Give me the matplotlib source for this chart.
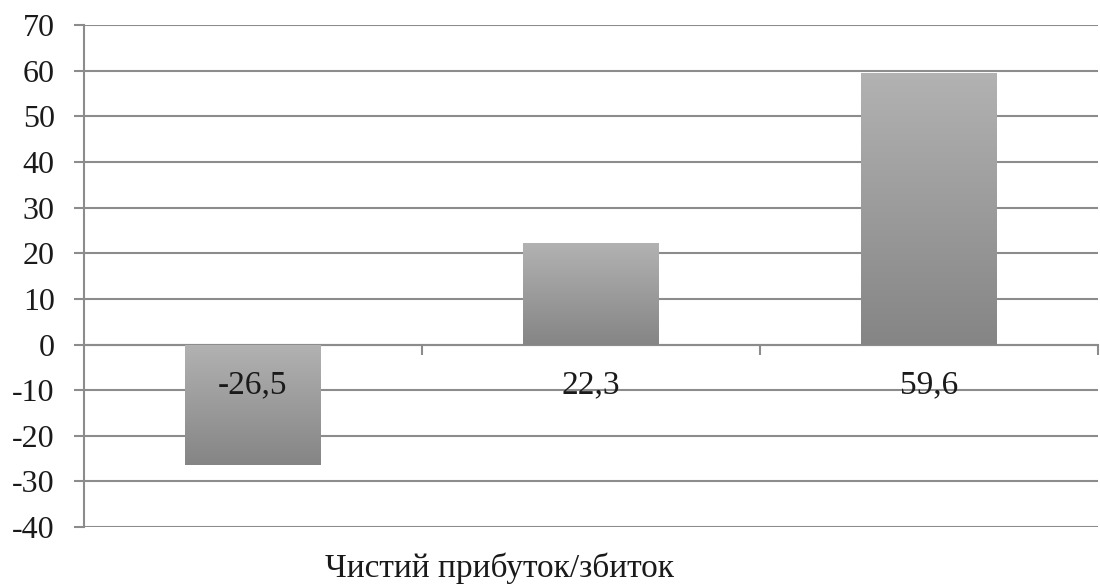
import numpy as np
import matplotlib.pyplot as plt
from matplotlib.colors import LinearSegmentedColormap

plt.rcParams['font.family'] = ['Liberation Serif', 'DejaVu Serif']
plt.rcParams['axes.unicode_minus'] = False

categories = ["-26,5", "22,3", "59,6"]
values = [-26.5, 22.3, 59.6]
series_name = "Чистий прибуток/збиток"
y_ticks = list(range(-40, 71, 10))

fig = plt.figure(figsize=(11, 5.86), dpi=100)
ax = fig.add_axes([0.0764, 0.1007, 0.9216, 0.8563])

x = np.arange(len(values))
bar_w = 0.4
bars = ax.bar(x, values, width=bar_w, color='none', edgecolor='none', zorder=3)

# vertical grey gradient, light on top, darker at bottom
grey = LinearSegmentedColormap.from_list('g', ['#b2b2b2', '#858585'])
grad = np.linspace(0, 1, 256).reshape(-1, 1)
for b in bars:
    x0, w = b.get_x(), b.get_width()
    y0, h = b.get_y(), b.get_height()
    lo, hi = min(y0, y0 + h), max(y0, y0 + h)
    im = ax.imshow(grad, cmap=grey, aspect='auto',
                   extent=(x0, x0 + w, lo, hi), origin='upper', zorder=3)
    im.set_clip_path(b)

ax.set_xlim(-0.5, 2.5)
ax.set_ylim(-40, 70)
ax.set_yticks(y_ticks)
ax.yaxis.grid(True, color='#8c8c8c', lw=1.5, zorder=1)
ax.set_axisbelow(True)

for s in ['top', 'right']:
    ax.spines[s].set_visible(False)
ax.spines['left'].set_color('#8c8c8c')
ax.spines['left'].set_linewidth(1.5)
ax.spines['bottom'].set_position(('data', 0))
ax.spines['bottom'].set_color('#8c8c8c')
ax.spines['bottom'].set_linewidth(1.5)

ax.set_xticks([0.5, 1.5, 2.5])
ax.set_xticklabels([])
ax.tick_params(axis='x', which='major', direction='out', length=7, width=1.5, color='#8c8c8c')
ax.tick_params(axis='y', direction='out', length=7, width=1.5, color='#8c8c8c',
               labelsize=23, labelcolor='#1a1a1a', pad=14)

# category labels sit just under the zero line, over the bars
for xi, lab in zip(x, categories):
    ax.text(xi, -8.8, lab, fontsize=24, color='#1a1a1a', ha='center', va='center', zorder=5)

fig.text(0.454, 0.03, series_name, fontsize=24, color='#1a1a1a', ha='center', va='center')

fig.savefig('out.png', dpi=100)
